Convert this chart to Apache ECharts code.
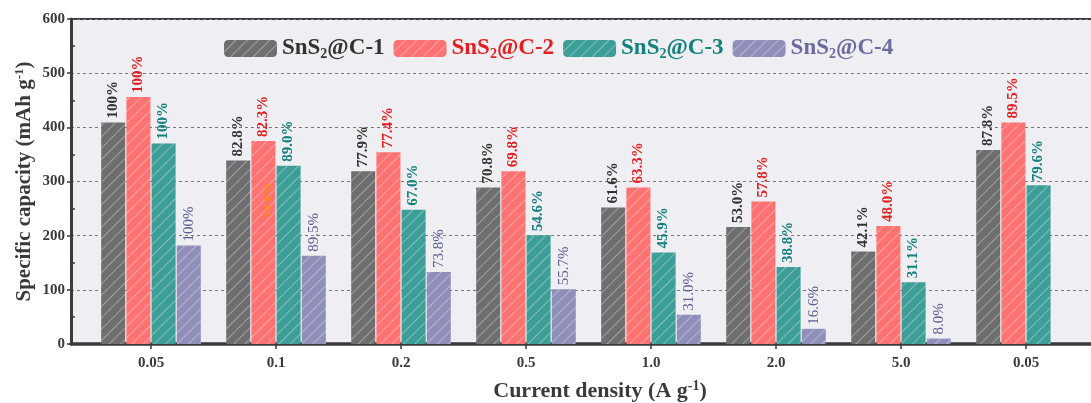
<!DOCTYPE html>
<html>
<head>
<meta charset="utf-8">
<script src="https://cdn.jsdelivr.net/npm/echarts@6/dist/echarts.min.js"></script>
<style>html,body{margin:0;padding:0;background:#fff}#c{width:1091px;height:403px}</style>
</head>
<body>
<div id="c"></div>
<script>
const categories = ['0.05', '0.1', '0.2', '0.5', '1.0', '2.0', '5.0', '0.05'];
const seriesNames = ['SnS2@C-1', 'SnS2@C-2', 'SnS2@C-3', 'SnS2@C-4'];
const c1 = [409, 339, 319, 289, 252, 216, 171, 358];
const c2 = [456, 375, 354, 319, 289, 263, 218, 409];
const c3 = [370, 329, 248, 201, 169, 142, 114, 293];
const c4 = [182, 163, 133, 101, 54, 28, 10, null];
const p1 = ['100%', '82.8%', '77.9%', '70.8%', '61.6%', '53.0%', '42.1%', '87.8%'];
const p2 = ['100%', '82.3%', '77.4%', '69.8%', '63.3%', '57.8%', '48.0%', '89.5%'];
const p3 = ['100%', '89.0%', '67.0%', '54.6%', '45.9%', '38.8%', '31.1%', '79.6%'];
const p4 = ['100%', '89.5%', '73.8%', '55.7%', '31.0%', '16.6%', '8.0%', ''];
const yTicks = { min: 0, max: 600, interval: 100 };

const FONT = '"Liberation Serif", "Times New Roman", serif';
const barColors = ['#6e6e6e', '#ff7272', '#3d9e97', '#8f8fb9'];
const labelColors = ['#333333', '#e41f1f', '#13827c', '#5f5e92'];
const legendColors = ['#333333', '#e41f1f', '#13827c', '#6c6b9c'];
const labelWeights = ['bold', 'bold', 'bold', 'normal'];
const values = [c1, c2, c3, c4];
const pcts = [p1, p2, p3, p4];

const decal = {
  symbol: 'rect', symbolSize: 1,
  dashArrayX: [1, 0], dashArrayY: [1, 7],
  rotation: -Math.PI / 4,
  color: 'rgba(255,255,255,0.35)'
};

const series = seriesNames.map((n, i) => ({
  name: n,
  type: 'bar',
  xAxisIndex: 0, yAxisIndex: 0,
  barWidth: 24,
  barGap: '5%',
  data: values[i],
  itemStyle: { color: barColors[i], decal: decal },
  label: {
    show: true, position: 'top', rotate: 90, align: 'left', verticalAlign: 'middle',
    distance: 4, fontFamily: FONT, fontSize: 15, fontWeight: labelWeights[i],
    color: labelColors[i],
    formatter: p => pcts[i][p.dataIndex]
  },
  z: 3
}));

const chart = echarts.init(document.getElementById('c'), null, { renderer: 'canvas' });
chart.setOption({
  animation: false,
  backgroundColor: '#ffffff',
  grid: [
    { left: 88.5, top: 19, width: 1000, height: 325, show: false, containLabel: false, outerBoundsMode: 'none' },
    { left: 71, top: 19, width: 1058, height: 325, show: true, containLabel: false, outerBoundsMode: 'none',
      backgroundColor: '#eeeef3', borderColor: '#3a3a3a', borderWidth: 2 }
  ],
  legend: {
    top: 32, left: 219,
    itemWidth: 53, itemHeight: 17, itemGap: 9,
    data: seriesNames.map((n, i) => ({ name: n, textStyle: { color: legendColors[i] } })),
    formatter: name => '{a|SnS}{s|2}{a|@C-' + name.slice(-1) + '}',
    textStyle: {
      fontFamily: FONT, fontWeight: 'bold', fontSize: 23,
      rich: {
        a: { fontFamily: FONT, fontWeight: 'bold', fontSize: 23 },
        s: { fontFamily: FONT, fontWeight: 'bold', fontSize: 14, padding: [12, 0, 0, 0] }
      }
    }
  },
  xAxis: [
    {
      gridIndex: 0, type: 'category', data: categories,
      axisLine: { show: false },
      axisTick: { show: true, alignWithLabel: true, length: 5, lineStyle: { color: '#3a3a3a', width: 1.5 } },
      axisLabel: { fontFamily: FONT, fontWeight: 'bold', fontSize: 15, color: '#3a3a3a', margin: 12 },
      splitLine: { show: false }
    },
    {
      gridIndex: 1, type: 'value', min: 0, max: 1,
      axisLine: { show: true, lineStyle: { color: '#3a3a3a', width: 3.5 } },
      axisTick: { show: false }, axisLabel: { show: false }, splitLine: { show: false },
      name: '{a|Current density (A g}{sup|-1}{a|)}',
      nameLocation: 'middle', nameGap: 35, nameMoveOverlap: false,
      nameTextStyle: {
        fontFamily: FONT, fontWeight: 'bold', fontSize: 22, color: '#3a3a3a',
        rich: {
          a: { fontFamily: FONT, fontWeight: 'bold', fontSize: 22, color: '#3a3a3a' },
          sup: { fontFamily: FONT, fontWeight: 'bold', fontSize: 14, color: '#3a3a3a', padding: [0, 0, 10, 0] }
        }
      }
    }
  ],
  yAxis: [
    { gridIndex: 0, type: 'value', min: yTicks.min, max: yTicks.max, interval: yTicks.interval, show: false },
    {
      gridIndex: 1, type: 'value', min: yTicks.min, max: yTicks.max, interval: yTicks.interval,
      axisLine: { show: true, lineStyle: { color: '#3a3a3a', width: 3 } },
      axisTick: { show: true, length: 4, lineStyle: { color: '#3a3a3a', width: 1.5 } },
      axisLabel: { fontFamily: FONT, fontWeight: 'bold', fontSize: 15, color: '#3a3a3a', margin: 6 },
      splitLine: { show: true, lineStyle: { type: [3, 3], color: '#777', width: 1 } },
      name: '{a|Specific capacity (mAh g}{sup|-1}{a|)}',
      nameLocation: 'middle', nameGap: 35, nameMoveOverlap: false,
      nameTextStyle: {
        fontFamily: FONT, fontWeight: 'bold', fontSize: 21, color: '#3a3a3a',
        rich: {
          a: { fontFamily: FONT, fontWeight: 'bold', fontSize: 21, color: '#3a3a3a' },
          sup: { fontFamily: FONT, fontWeight: 'bold', fontSize: 13, color: '#3a3a3a', padding: [0, 0, 10, 0] }
        }
      }
    },
    {
      gridIndex: 1, type: 'value', min: yTicks.min, max: yTicks.max, interval: yTicks.interval,
      position: 'left', offset: 0,
      axisLine: { show: false }, axisLabel: { show: false }, splitLine: { show: false },
      axisTick: { show: false, inside: true },
      minorTick: { show: true, splitNumber: 2, length: 4, lineStyle: { color: '#3a3a3a', width: 1.5 } }
    }
  ],
  graphic: [
    {
      type: 'text', x: 268, y: 200, rotation: Math.PI / 2, z: 10,
      style: { text: '70.6%', fill: 'rgba(255,140,0,0.8)', font: 'bold 13px ' + FONT, align: 'center', verticalAlign: 'middle' }
    }
  ],
  series: series
});
</script>
</body>
</html>
